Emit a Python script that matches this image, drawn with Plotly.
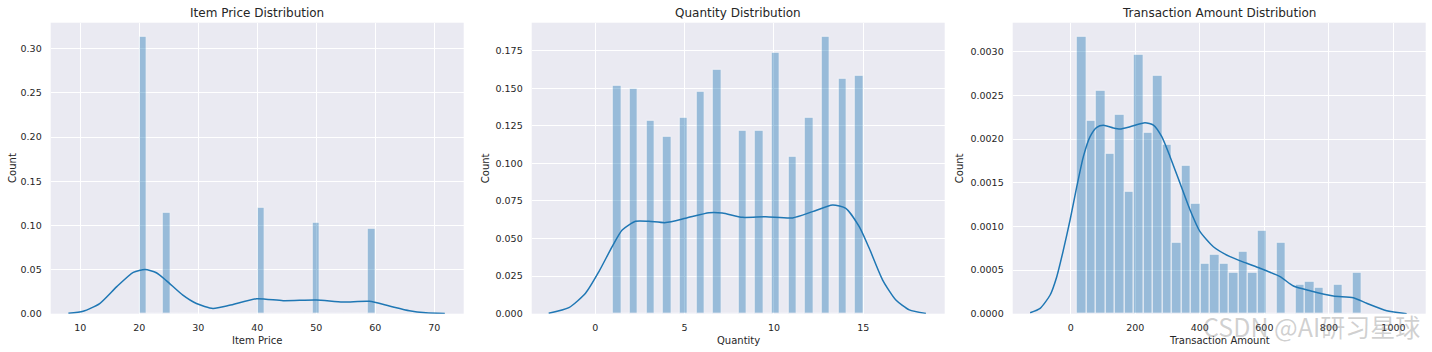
import plotly.graph_objects as go

# ---------------- data ----------------
titles = ["Item Price Distribution", "Quantity Distribution", "Transaction Amount Distribution"]
x_labels = ["Item Price", "Quantity", "Transaction Amount"]
y_label = "Count"

# histogram (density) bins
price_bin_start = 20.0
price_bin_width = 40.0 / 30
price_density = [0.3132, 0, 0, 0.1143, 0, 0, 0, 0, 0, 0,
                 0, 0, 0, 0, 0, 0.1200, 0, 0, 0, 0,
                 0, 0, 0.1030, 0, 0, 0, 0, 0, 0, 0.0962]

qty_bin_start = 1.0
qty_bin_width = 14.0 / 30
qty_density = [0.1515, 0, 0.1495, 0, 0.1282, 0, 0.1178, 0, 0.1302, 0,
               0.1475, 0, 0.1624, 0, 0, 0.1215, 0, 0.1215, 0, 0.1737,
               0, 0.1045, 0, 0.1302, 0, 0.1841, 0, 0.1561, 0, 0.1581]

amt_bin_start = 18.5
amt_bin_width = 29.44
amt_density = [0.003168, 0.002210, 0.002553, 0.001832, 0.002275, 0.001393,
               0.002962, 0.002069, 0.002721, 0.001931, 0.000809, 0.001695,
               0.001256, 0.000569, 0.000672, 0.000569, 0.000468, 0.000708,
               0.000468, 0.000950, 0.0, 0.000811, 0.0, 0.000329,
               0.000363, 0.000296, 0.0, 0.000329, 0.0, 0.000468]

# KDE curves
price_kde_x = [8.0, 10.5, 13.3, 16.2, 19.0, 21.0, 22.9, 24.6, 27.4, 29.7, 32.5,
               35.3, 39.9, 44.4, 50.0, 54.5, 59.0, 62.4, 65.8, 68.6, 71.8]
price_kde_y = [0.0005, 0.0028, 0.0115, 0.0306, 0.0468, 0.0500, 0.0464, 0.0375, 0.0210,
               0.0115, 0.0060, 0.0095, 0.0170, 0.0148, 0.0155, 0.0132, 0.0140,
               0.0087, 0.0034, 0.0011, 0.0002]

qty_kde_x = [-2.6, -1.47, -0.54, 0.21, 0.95, 1.51, 2.26, 3.0, 3.94, 5.06, 6.37,
             7.11, 8.24, 9.54, 11.04, 12.16, 13.28, 14.02, 14.77, 15.33, 16.08,
             16.82, 17.57, 18.5]
qty_kde_y = [0.0003, 0.0040, 0.0136, 0.0280, 0.0446, 0.0557, 0.0615, 0.0615, 0.0606,
             0.0635, 0.0672, 0.0670, 0.0641, 0.0645, 0.0637, 0.0679, 0.0723,
             0.0701, 0.0579, 0.0435, 0.0224, 0.0091, 0.0025, 0.0002]

amt_kde_x = [-126, -95, -64, -43.4, -22.9, -2.2, 18.6, 39, 59.8, 80.6, 101, 132,
             152.8, 183.8, 230, 256, 282, 307.7, 338.7, 369.7, 400.7, 441.9,
             493.6, 545.4, 586.6, 648.6, 690, 741.6, 813.8, 875.8, 917.2, 979.2, 1041]
amt_kde_y = [0.0000115, 0.000062, 0.000214, 0.000424, 0.00073, 0.001073, 0.001454,
             0.001798, 0.002027, 0.002134, 0.002157, 0.002127, 0.002115, 0.002141,
             0.002187, 0.00216, 0.002027, 0.001798, 0.001493, 0.001188, 0.000939,
             0.000767, 0.000653, 0.000577, 0.00052, 0.000424, 0.000317, 0.000263,
             0.000203, 0.000183, 0.000119, 0.0000343, 0.0]

x_ticks = [[10, 20, 30, 40, 50, 60, 70], [0, 5, 10, 15], [0, 200, 400, 600, 800, 1000]]
y_ticks = [[0, 0.05, 0.10, 0.15, 0.20, 0.25, 0.30],
           [0, 0.025, 0.05, 0.075, 0.10, 0.125, 0.15, 0.175],
           [0, 0.0005, 0.0010, 0.0015, 0.0020, 0.0025, 0.0030]]
y_formats = [".2f", ".3f", ".4f"]
x_ranges = [[5.0, 75.0], [-3.55, 19.55], [-180, 1100]]
y_ranges = [[0, 0.3294], [0, 0.1936], [0, 0.003332]]

watermark = "CSDN @AI研习星球"

# ---------------- figure ----------------
W, H = 1432, 352
BLUE = "#1f77b4"
TXT = "#262626"
FONT = "DejaVu Sans"

panels_px = [(50.7, 463.7), (531.7, 944.7), (1012.7, 1425.7)]
top_px, bot_px = 22.7, 313.7

hists = [(price_bin_start, price_bin_width, price_density),
         (qty_bin_start, qty_bin_width, qty_density),
         (amt_bin_start, amt_bin_width, amt_density)]
kdes = [(price_kde_x, price_kde_y), (qty_kde_x, qty_kde_y), (amt_kde_x, amt_kde_y)]

fig = go.Figure()
layout = dict(
    width=W, height=H, margin=dict(l=0, r=0, t=0, b=0, pad=0, autoexpand=False),
    paper_bgcolor="white", plot_bgcolor="#EAEAF2", showlegend=False,
    font=dict(family=FONT, color=TXT),
)
annotations = []
ydom = [(H - bot_px) / H, (H - top_px) / H]

for i in range(3):
    sfx = "" if i == 0 else str(i + 1)
    xa, ya = "x" + sfx, "y" + sfx
    start, w, dens = hists[i]
    centers = [start + (k + 0.5) * w for k in range(len(dens))]
    fig.add_trace(go.Bar(
        x=centers, y=dens, width=[w] * len(dens), xaxis=xa, yaxis=ya,
        marker=dict(color=BLUE, opacity=0.4, line=dict(color="white", width=1)),
        hoverinfo="skip"))
    kx, ky = kdes[i]
    fig.add_trace(go.Scatter(
        x=kx, y=ky, mode="lines", xaxis=xa, yaxis=ya,
        line=dict(color=BLUE, width=1.5, shape="spline", smoothing=0.6)))

    x0, x1 = panels_px[i]
    layout["xaxis" + sfx] = dict(
        domain=[x0 / W, x1 / W], range=x_ranges[i], anchor=ya, automargin=False,
        tickvals=x_ticks[i], showgrid=True, gridcolor="white", gridwidth=1,
        zeroline=False, showline=False, ticks="", ticklabelstandoff=7,
        tickfont=dict(family=FONT, size=9.5, color=TXT))
    layout["yaxis" + sfx] = dict(
        domain=ydom, range=y_ranges[i], anchor=xa, automargin=False,
        tickvals=y_ticks[i], tickformat=y_formats[i], showgrid=True,
        gridcolor="white", gridwidth=1, zeroline=False, showline=False,
        ticks="", ticklabelstandoff=8,
        tickfont=dict(family=FONT, size=9.5, color=TXT))
    cx = (x0 + x1) / 2 / W
    annotations.append(dict(text=titles[i], x=cx, y=(H - 12.7) / H, xref="paper", yref="paper",
                            showarrow=False, xanchor="center", yanchor="middle",
                            font=dict(family=FONT, size=12, color=TXT)))
    annotations.append(dict(text=x_labels[i], x=cx, y=(H - 340) / H, xref="paper", yref="paper",
                            showarrow=False, xanchor="center", yanchor="middle",
                            font=dict(family=FONT, size=10, color=TXT)))
    ylab_x = [11.7, 485.0, 959.0][i]
    annotations.append(dict(text=y_label, x=ylab_x / W, y=(H - (top_px + bot_px) / 2) / H,
                            xref="paper", yref="paper", textangle=-90,
                            showarrow=False, xanchor="center", yanchor="middle",
                            font=dict(family=FONT, size=10, color=TXT)))

annotations.append(dict(text=watermark, x=1311 / W, y=(H - 326) / H, xref="paper", yref="paper",
                        showarrow=False, xanchor="center", yanchor="middle",
                        font=dict(family="Noto Sans CJK SC", size=25, color="rgba(120,120,120,0.35)")))
layout["annotations"] = annotations
layout["bargap"] = 0
fig.update_layout(**layout)
fig.write_html("out.html", config={"responsive": False})
